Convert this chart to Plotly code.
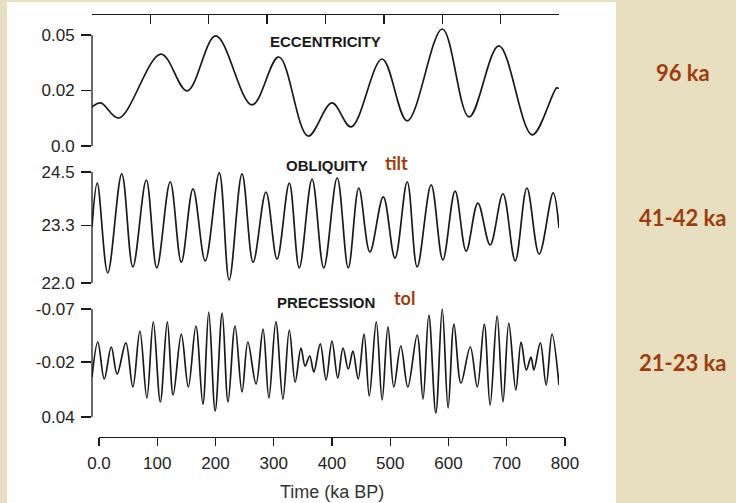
import plotly.graph_objects as go

W, H = 736, 503

# ---------------- data ----------------
# Eccentricity: turning points (time in ka BP, value on the printed scale)
ecc_t = [0, 15, 46, 118, 163, 212, 274, 320, 370, 411, 444, 497, 540, 600, 646, 697, 754, 796, 800]
ecc_v = [0.0176, 0.0194, 0.0126, 0.0414, 0.0248, 0.0496, 0.0185, 0.0401, 0.0045, 0.0194,
         0.0086, 0.0392, 0.0113, 0.0527, 0.0131, 0.0451, 0.0050, 0.0262, 0.0258]

# Obliquity (degrees)
obl_t = [0, 9, 27, 51, 70, 93, 111, 134, 153, 173, 194, 218, 235, 257, 276, 298, 317, 338,
         355, 377, 397, 420, 439, 457, 476, 499, 519, 540, 557, 581, 601, 622, 641, 661,
         682, 704, 725, 745, 766, 790, 800]
obl_v = [23.26, 24.25, 22.23, 24.46, 22.36, 24.32, 22.34, 24.28, 22.47, 24.12, 22.50, 24.48,
         22.07, 24.46, 22.47, 24.05, 22.54, 24.25, 22.34, 24.34, 22.34, 24.37, 22.34, 24.14,
         22.70, 23.94, 22.56, 24.28, 22.36, 24.21, 22.52, 24.07, 22.72, 23.80, 22.86, 24.01,
         22.50, 24.14, 22.65, 24.03, 23.24]

# Precession index
pre_t = [0, 10, 21, 33, 43, 58, 70, 82, 94, 105, 117, 129, 139, 153, 165, 178, 190, 200,
         211, 223, 233, 245, 257, 267, 281, 293, 303, 315, 327, 338, 348, 358, 365, 373,
         380, 391, 401, 411, 421, 430, 439, 447, 456, 466, 475, 487, 497, 507, 517, 529,
         541, 557, 567, 577, 589, 600, 610, 620, 632, 648, 660, 672, 682, 694, 704, 714,
         726, 735, 744, 752, 757, 768, 778, 788, 800]
pre_v = [-0.0007, -0.0364, 0.0013, -0.0313, -0.0038, -0.0354, 0.0094, -0.0476, 0.0206, -0.0568,
         0.0247, -0.0568, 0.0176, -0.0445, 0.0094, -0.0527, 0.0268, -0.0669, 0.0339, -0.0659,
         0.0247, -0.0527, 0.0145, -0.0364, 0.0064, -0.0496, 0.0206, -0.0568, 0.0217, -0.0486,
         0.0044, -0.0303, -0.0119, -0.0221, -0.0058, -0.0344, 0.0023, -0.0374, 0.0003, -0.0303,
         -0.0089, -0.0272, 0.0013, -0.0445, 0.0186, -0.0568, 0.0227, -0.0517, 0.0094, -0.0323,
         0.0094, -0.0435, 0.0217, -0.0639, 0.0359, -0.0700, 0.0308, -0.0547, 0.0054, -0.0313,
         0.0094, -0.0547, 0.0278, -0.0629, 0.0247, -0.0557, 0.0125, -0.0364, -0.0079, -0.0211,
         -0.0079, -0.0354, 0.0074, -0.0445, 0.0074]

time_ticks = [0, 100, 200, 300, 400, 500, 600, 700, 800]
time_labels = ["0.0", "100", "200", "300", "400", "500", "600", "700", "800"]
ecc_tickvals = [0, 0.025, 0.05]
ecc_ticktext = ["0.0", "0.02", "0.05"]
obl_tickvals = [22.0, 23.3, 24.5]
obl_ticktext = ["22.0", "23.3", "24.5"]
pre_tickvals = [-0.07, -0.016, 0.04]
pre_ticktext = ["-0.07", "-0.02", "0.04"]

# ---------------- layout helpers ----------------
def px_x(p):
    return p / W

def px_y(p):
    return 1 - p / H

def ydom(va, pa, vb, pb, r0, r1):
    k = (pb - pa) / (vb - va)
    p0 = pa + (r0 - va) * k
    p1 = pa + (r1 - va) * k
    return sorted([px_y(p0), px_y(p1)])

xdom = [px_x(92), px_x(559)]
xdom_bottom = [px_x(99), px_x(565)]

ink = "#1a1a1a"
brown = "#9e3c0c"
beige = "#e7dfbf"
tickfont = dict(family="Liberation Sans, Arial, sans-serif", size=17, color="#222")

fig = go.Figure()
line = dict(color=ink, width=1.7, shape="spline", smoothing=1.0)
fig.add_trace(go.Scatter(x=ecc_t, y=ecc_v, mode="lines", line=line, xaxis="x", yaxis="y", hoverinfo="skip"))
fig.add_trace(go.Scatter(x=obl_t, y=obl_v, mode="lines", line=line, xaxis="x2", yaxis="y2", hoverinfo="skip"))
fig.add_trace(go.Scatter(x=pre_t, y=pre_v, mode="lines", line=line, xaxis="x3", yaxis="y3", hoverinfo="skip"))
# carrier for the bottom time axis
fig.add_trace(go.Scatter(x=[None], y=[None], mode="lines", xaxis="x4", yaxis="y3", hoverinfo="skip"))

ecc_range = [-0.003, 0.057]
obl_range = [21.9, 24.6]
pre_range = [0.042, -0.072]

yaxis_common = dict(showline=False, ticks="outside", ticklen=10, tickwidth=1.3, tickcolor=ink,
                    showgrid=False, zeroline=False, tickfont=tickfont, ticklabelstandoff=3,
                    automargin=False, fixedrange=True)

fig.update_layout(
    template="none",
    width=W, height=H, margin=dict(l=0, r=0, t=0, b=0, pad=0, autoexpand=False),
    paper_bgcolor=beige, plot_bgcolor="rgba(0,0,0,0)", showlegend=False,
    xaxis=dict(domain=xdom, range=[0, 800], anchor="free", position=px_y(14), side="top",
               showline=True, linecolor=ink, linewidth=1.3, ticks="inside", ticklen=9,
               tickwidth=1.3, tickcolor=ink, tickvals=time_ticks, showticklabels=False,
               showgrid=False, zeroline=False, automargin=False, fixedrange=True),
    xaxis2=dict(domain=xdom, range=[0, 800], matches="x", visible=False, anchor="y2", automargin=False),
    xaxis3=dict(domain=xdom, range=[0, 800], matches="x", visible=False, anchor="y3", automargin=False),
    xaxis4=dict(domain=xdom_bottom, range=[0, 800], anchor="free", position=px_y(437),
                showline=True, linecolor=ink, linewidth=1.3, ticks="outside", ticklen=8,
                tickwidth=1.3, tickcolor=ink, tickvals=time_ticks, ticktext=time_labels,
                tickfont=tickfont, showgrid=False, zeroline=False, ticklabelstandoff=2,
                automargin=False, fixedrange=True),
    yaxis=dict(domain=ydom(0, 146, 0.05, 35, *ecc_range), range=ecc_range, anchor="x",
               tickvals=ecc_tickvals, ticktext=ecc_ticktext, **yaxis_common),
    yaxis2=dict(domain=ydom(22, 283, 24.5, 172, *obl_range), range=obl_range, anchor="x2",
                tickvals=obl_tickvals, ticktext=obl_ticktext, **yaxis_common),
    yaxis3=dict(domain=ydom(-0.07, 309, 0.04, 417, *pre_range), range=pre_range, anchor="x3",
                tickvals=pre_tickvals, ticktext=pre_ticktext, **yaxis_common),
)

shapes = [
    dict(type="rect", xref="paper", yref="paper", x0=px_x(7), x1=px_x(616), y0=0, y1=px_y(2),
         fillcolor="white", line=dict(width=0), layer="below"),
    dict(type="line", xref="x domain", yref="y", x0=0, x1=0, y0=0, y1=0.05,
         line=dict(color=ink, width=1.3)),
    dict(type="line", xref="x2 domain", yref="y2", x0=0, x1=0, y0=22.0, y1=24.5,
         line=dict(color=ink, width=1.3)),
    dict(type="line", xref="x3 domain", yref="y3", x0=0, x1=0, y0=-0.07, y1=0.04,
         line=dict(color=ink, width=1.3)),
]
fig.update_layout(shapes=shapes)

lab = dict(family="Liberation Sans, Arial, sans-serif", size=15, color=ink)
brownfont = dict(family="Lato, Open Sans, sans-serif", size=18, color=brown)
sidefont = dict(family="Lato, Open Sans, sans-serif", size=22, color=brown)

def ann(text, x, y, font, xanchor="center", bold=True):
    t = f"<b>{text}</b>" if bold else text
    return dict(text=t, x=px_x(x), y=px_y(y), xref="paper", yref="paper", showarrow=False,
                font=font, xanchor=xanchor, yanchor="middle")

annotations = [
    ann("ECCENTRICITY", 325, 41, lab),
    ann("OBLIQUITY", 370, 165, lab, xanchor="right"),
    ann("tilt", 383, 163, brownfont, xanchor="left"),
    ann("PRECESSION", 377, 302, lab, xanchor="right"),
    ann("tol", 392, 298, brownfont, xanchor="left"),
    ann("96 ka", 683, 73, sidefont),
    ann("41-42 ka", 683, 217, sidefont),
    ann("21-23 ka", 683, 362, sidefont),
    ann("Time (ka BP)", 332, 492, dict(family="Liberation Sans, Arial, sans-serif", size=18, color="#333"), bold=False),
]
fig.update_layout(annotations=annotations)

fig.write_html(
    "out.html",
    config={"displayModeBar": False, "staticPlot": True},
    post_script=("document.body.style.margin='0';document.body.style.padding='0';"
                 "document.body.style.overflow='hidden';"
                 "document.body.style.background='" + beige + "';"),
)
